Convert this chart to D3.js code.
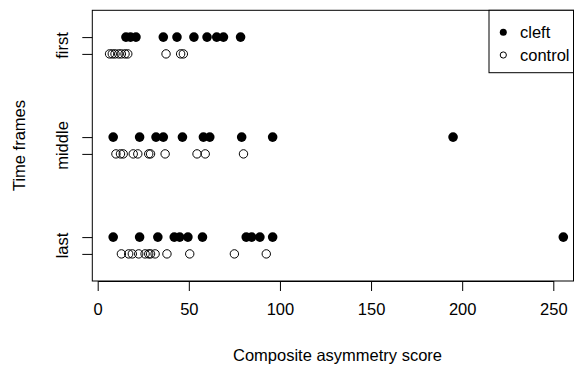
<!DOCTYPE html>
<meta charset="utf-8">
<script src="https://d3js.org/d3.v7.min.js"></script>
<style>
  body { margin: 0; background: #fff; }
  text { font-family: "Liberation Sans", Arial, sans-serif; }
</style>
<div id="my_dataviz"></div>
<script>

// time frames, bottom to top
var frames = ["last", "middle", "first"];
var series = ["cleft", "control"];

// composite asymmetry scores
var cleftFirst   = [15.5, 18, 21, 36, 43.5, 52.8, 60, 65.3, 69, 78.4];
var controlFirst = [6.5, 8, 9.5, 11.5, 13, 15, 16.5, 37.5, 45.5, 47];
var cleftMiddle   = [8.5, 23, 32, 36, 46.5, 58, 61.5, 79, 96, 195];
var controlMiddle = [10, 12.5, 14, 19.5, 22, 28, 29, 37, 54.5, 59, 80];
var cleftLast   = [8.5, 23, 33, 42, 45, 49.5, 57.5, 81.5, 84.5, 89, 96, 255.5];
var controlLast = [13, 17, 19, 22.5, 26, 28, 29, 31.5, 38, 50.5, 75, 92.5];

var xTicks = [0, 50, 100, 150, 200, 250];

var width = 574, height = 365;

var svg = d3.select("#my_dataviz")
  .append("svg")
    .attr("width", width)
    .attr("height", height);

// x scale: 0 -> 97.7px, 250 -> 553.3px
var x = d3.scaleLinear()
  .domain([0, 250])
  .range([97.7, 553.3]);
var xlim = [x.invert(92.3), x.invert(573.5)];

// y scale: group index 1..3
var y = d3.scaleLinear()
  .domain([1, 3])
  .range([245.5, 45.5]);
var ylim = [0.645, 3.352];
var off = 0.084;

var pts = [];
function add(arr, frame, s) {
  arr.forEach(function(v) { pts.push({value: v, frame: frame, series: s}); });
}
add(cleftFirst, "first", "cleft");
add(controlFirst, "first", "control");
add(cleftMiddle, "middle", "cleft");
add(controlMiddle, "middle", "control");
add(cleftLast, "last", "cleft");
add(controlLast, "last", "control");

function yPos(d) {
  var g = frames.indexOf(d.frame) + 1;
  return y(g + (d.series == "cleft" ? off : -off));
}

// clip to plot region
svg.append("clipPath").attr("id", "plotclip")
  .append("rect")
    .attr("x", x(xlim[0])).attr("y", y(ylim[1]))
    .attr("width", x(xlim[1]) - x(xlim[0]))
    .attr("height", y(ylim[0]) - y(ylim[1]));

// points
svg.append("g")
  .attr("clip-path", "url(#plotclip)")
  .selectAll("circle")
  .data(pts)
  .enter()
  .append("circle")
    .attr("cx", function(d) { return x(d.value); })
    .attr("cy", yPos)
    .attr("r", function(d) { return d.series == "cleft" ? 4.8 : 4.2; })
    .attr("fill", function(d) { return d.series == "cleft" ? "#000" : "none"; })
    .attr("stroke", "#000")
    .attr("stroke-width", function(d) { return d.series == "cleft" ? 0 : 1; });

// box
svg.append("rect")
  .attr("x", x(xlim[0]))
  .attr("y", y(ylim[1]))
  .attr("width", x(xlim[1]) - x(xlim[0]))
  .attr("height", y(ylim[0]) - y(ylim[1]))
  .attr("fill", "none")
  .attr("stroke", "#000")
  .attr("stroke-width", 1);

// X axis
var xAxis = svg.append("g")
  .attr("transform", "translate(0," + y(ylim[0]) + ")")
  .call(d3.axisBottom(x).tickValues(xTicks).tickSize(10).tickPadding(12).tickSizeOuter(0));
xAxis.selectAll("text")
  .style("font-size", "16.5px")
  .attr("fill", "#000")
  .style("font-family", "'Liberation Sans', Arial, sans-serif");
xAxis.selectAll("line, path").attr("stroke", "#000");

// Y axis: ticks at each offset position, labels at group centres
var yTickVals = [];
frames.forEach(function(f, i) { yTickVals.push(i + 1 - off, i + 1 + off); });
var yAxis = svg.append("g")
  .attr("transform", "translate(" + x(xlim[0]) + ",0)")
  .call(d3.axisLeft(y).tickValues(yTickVals).tickSize(10).tickFormat("").tickSizeOuter(0));
yAxis.select("path").remove();
yAxis.selectAll("line").attr("stroke", "#000");

svg.selectAll("frameLabel")
  .data(frames)
  .enter()
  .append("text")
    .attr("transform", function(d, i) { return "translate(68," + y(i + 1) + ")rotate(-90)"; })
    .style("text-anchor", "middle")
    .style("font-size", "16.5px")
    .text(function(d) { return d; });

// axis titles
svg.append("text")
  .attr("x", 337.5)
  .attr("y", 361)
  .style("text-anchor", "middle")
  .style("font-size", "16.5px")
  .text("Composite asymmetry score");

svg.append("text")
  .attr("transform", "translate(25," + y(2) + ")rotate(-90)")
  .style("text-anchor", "middle")
  .style("font-size", "16.5px")
  .text("Time frames");

// legend
var lg = svg.append("g");
lg.append("rect")
  .attr("x", 489)
  .attr("y", y(ylim[1]))
  .attr("width", x(xlim[1]) - 489)
  .attr("height", 72.7 - y(ylim[1]))
  .attr("fill", "#fff")
  .attr("stroke", "#000");
series.forEach(function(s, i) {
  var cy = 32.3 + i * 22.7;
  lg.append("circle")
    .attr("cx", 503.3)
    .attr("cy", cy)
    .attr("r", s == "cleft" ? 3.5 : 3.1)
    .attr("fill", s == "cleft" ? "#000" : "none")
    .attr("stroke", "#000")
    .attr("stroke-width", s == "cleft" ? 0 : 1);
  lg.append("text")
    .attr("x", 520)
    .attr("y", cy + 6)
    .style("font-size", "16.5px")
    .text(s);
});

</script>
